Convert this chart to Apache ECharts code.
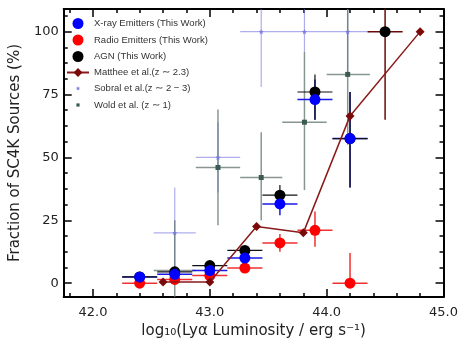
<!DOCTYPE html>
<html>
<head>
<meta charset="utf-8">
<title>SC4K AGN fraction</title>
<script src="https://cdn.jsdelivr.net/npm/echarts@6/dist/echarts.min.js"></script>
<style>
    body { margin:0; background:#fff; }
    #main { width:461px; height:344px; }
</style>
</head>
<body>
<div id="main"></div>
<script type="text/javascript">
// this work: log L, fraction, and error bar ends
var twX     = [42.4, 42.7, 43.0, 43.3, 43.6, 43.9, 44.2, 44.5];
var twXLo   = [42.25, 42.55, 42.85, 43.15, 43.45, 43.75, 44.05, 44.35];
var twXHi   = [42.55, 42.85, 43.15, 43.45, 43.75, 44.05, 44.35, 44.65];

var agnY    = [2.5, 4.5, 7, 13, 35, 76, 57.5, 100];
var agnYLo  = [1.5, 3, 5.5, 11, 31, 65, 38, 65];
var agnYHi  = [3.5, 6, 8.5, 15, 39, 83, 76, 115];

var xrayY   = [2.5, 3.5, 5, 10, 31.5, 73, 57.5];
var xrayYLo = [2, 2.5, 4, 8.5, 27, 65, 38];
var xrayYHi = [3, 4.5, 6, 11.5, 35, 81, 76];

var radioY   = [0, 1.5, 3, 6, 16, 21, 0];
var radioYLo = [0, 0.5, 1.5, 4.5, 12.5, 14.5, 0];
var radioYHi = [0.5, 2.5, 4.5, 7.5, 19.5, 28.5, 12];

// Matthee et al.
var matX = [42.6, 43.0, 43.4, 43.8, 44.2, 44.8];
var matY = [0.5, 0.5, 22.5, 20, 66.5, 100];

// Sobral et al. and Wold et al. share bins
var litX   = [42.7, 43.07, 43.44, 43.81, 44.18];
var litXLo = [42.52, 42.88, 43.26, 43.62, 44.0];
var litXHi = [42.88, 43.26, 43.62, 44.0, 44.37];

var sobY   = [20, 50, 100, 100, 100];
var sobYLo = [2, 36, 78, 92, 84];
var sobYHi = [38, 64, 115, 115, 115];

var woldY   = [5, 46, 42, 64, 83];
var woldYLo = [-6, 23, 25, 37, 55];
var woldYHi = [25, 69, 60, 92, 115];

var xMajor = [42, 43, 44, 45];
var xMinor = [41.8, 42.2, 42.4, 42.6, 42.8, 43.2, 43.4, 43.6, 43.8, 44.2, 44.4, 44.6, 44.8];
var yMajor = [0, 25, 50, 75, 100];
var yMinor = [6.25, 12.5, 18.75, 31.25, 37.5, 43.75, 56.25, 62.5, 68.75, 81.25, 87.5, 93.75, 106.25];

var myChart = echarts.init(document.getElementById('main'));

function pts(xs, ys) {
    var out = [];
    for (var i = 0; i < ys.length; i++) out.push([xs[i], ys[i]]);
    return out;
}
function errs(xs, ys, xl, xh, yl, yh) {
    var out = [];
    for (var i = 0; i < ys.length; i++) out.push([xs[i], ys[i], xl[i], xh[i], yl[i], yh[i]]);
    return out;
}
function errSeries(name, data, color, width, z) {
    return {
        name: name,
        type: 'custom',
        clip: true,
        z: z,
        silent: true,
        data: data,
        renderItem: function (params, api) {
            var x = api.value(0), y = api.value(1);
            var l = api.coord([api.value(2), y]);
            var r = api.coord([api.value(3), y]);
            var b = api.coord([x, api.value(4)]);
            var t = api.coord([x, api.value(5)]);
            var st = { stroke: color, lineWidth: width };
            return {
                type: 'group',
                children: [
                    { type: 'line', shape: { x1: l[0], y1: l[1], x2: r[0], y2: r[1] }, style: st },
                    { type: 'line', shape: { x1: b[0], y1: b[1], x2: t[0], y2: t[1] }, style: st }
                ]
            };
        }
    };
}

var tickAxis = function (pos, vals, len, showLine, showLabel, isX) {
    var ax = {
        type: 'value',
        position: pos,
        min: isX ? 41.75 : -5.5,
        max: isX ? 45.0 : 109,
        axisLine: { show: showLine, onZero: false, lineStyle: { color: '#000', width: 2 } },
        axisTick: { show: true, inside: true, length: len, customValues: vals, lineStyle: { color: '#000', width: 1.5 } },
        axisLabel: { show: false },
        splitLine: { show: false }
    };
    if (showLabel) {
        ax.axisLabel = {
            show: true,
            customValues: vals,
            fontSize: 13,
            color: '#222',
            fontFamily: 'DejaVu Sans',
            margin: isX ? 9 : 5,
            formatter: isX ? function (v) { return v.toFixed(1); } : function (v) { return String(v); }
        };
    }
    return ax;
};

var xAxes = [
    tickAxis('bottom', xMajor, 8, true, true, true),
    tickAxis('bottom', xMinor, 4, false, false, true),
    tickAxis('top', xMajor, 8, true, false, true),
    tickAxis('top', xMinor, 4, false, false, true)
];
xAxes[0].name = 'log\u2081\u2080(Ly\u03b1 Luminosity / erg s\u207b\u00b9)';
xAxes[0].nameLocation = 'middle';
xAxes[0].nameGap = 27;
xAxes[0].nameTextStyle = { fontSize: 15, color: '#222', fontFamily: 'DejaVu Sans' };

var yAxes = [
    tickAxis('left', yMajor, 8, true, true, false),
    tickAxis('left', yMinor, 4, false, false, false),
    tickAxis('right', yMajor, 8, true, false, false),
    tickAxis('right', yMinor, 4, false, false, false)
];
yAxes[0].name = 'Fraction of SC4K Sources (%)';
yAxes[0].nameLocation = 'middle';
yAxes[0].nameGap = 36;
yAxes[0].nameTextStyle = { fontSize: 15, color: '#222', fontFamily: 'DejaVu Sans' };

var sobColor = 'rgba(120,120,225,0.6)';
var woldColor = 'rgba(95,115,110,0.75)';
var starPath = 'M0,-10L2.9,-4L9.5,-3.1L4.7,1.5L5.9,8.1L0,5L-5.9,8.1L-4.7,1.5L-9.5,-3.1L-2.9,-4Z';
// small legend icons: padded with empty moves so they keep a small size
var starIcon = 'path://M-24,-24M24,24M0,-10L2.9,-4L9.5,-3.1L4.7,1.5L5.9,8.1L0,5L-5.9,8.1L-4.7,1.5L-9.5,-3.1L-2.9,-4Z';
var squareIcon = 'path://M-24,-24M24,24M-7,-7L7,-7L7,7L-7,7Z';

var option = {
    animation: false,
    grid: { left: 54, right: 9, top: 9, bottom: 42 },
    xAxis: xAxes,
    yAxis: yAxes,
    legend: {
        orient: 'vertical',
        left: 61,
        top: 13,
        itemGap: 5.5,
        itemWidth: 22,
        itemHeight: 11,
        textStyle: { fontSize: 9.5, color: '#333', fontFamily: 'Liberation Sans' },
        data: [
            'X-ray Emitters (This Work)',
            'Radio Emitters (This Work)',
            'AGN (This Work)',
            'Matthee et al.(z \u223c 2.3)',
            { name: 'Sobral et al.(z \u223c 2 \u2212 3)', icon: starIcon },
            { name: 'Wold et al. (z \u223c 1)', icon: squareIcon }
        ]
    },
    series: [
        errSeries('sobErr', errs(litX, sobY, litXLo, litXHi, sobYLo, sobYHi), sobColor, 1.2, 1),
        errSeries('woldErr', errs(litX, woldY, litXLo, litXHi, woldYLo, woldYHi), woldColor, 1.5, 1),
        {
            name: 'Sobral et al.(z \u223c 2 \u2212 3)', type: 'scatter', z: 2,
            symbol: 'path://' + starPath,
            symbolSize: 5, itemStyle: { color: '#7b7be0', opacity: 0.9 },
            data: pts(litX, sobY)
        },
        {
            name: 'Wold et al. (z \u223c 1)', type: 'scatter', z: 2,
            symbol: 'rect', symbolSize: 5, itemStyle: { color: '#3b5b52', opacity: 1 },
            data: pts(litX, woldY)
        },
        errSeries('radioErr', errs(twX, radioY, twXLo, twXHi, radioYLo, radioYHi), '#f23030', 1.5, 3),
        errSeries('xrayErr', errs(twX, xrayY, twXLo, twXHi, xrayYLo, xrayYHi), '#1a1ae6', 1.5, 3),
        errSeries('agnErr', errs(twX, agnY, twXLo, twXHi, agnYLo, agnYHi).slice(0, 7), '#111', 1.2, 3),
        errSeries('agnErrTop', errs(twX, agnY, twXLo, twXHi, agnYLo, agnYHi).slice(7), '#6a0a0a', 1.5, 3),
        {
            name: 'Radio Emitters (This Work)', type: 'scatter', z: 4,
            symbol: 'circle', symbolSize: 11, itemStyle: { color: '#ff0000', opacity: 1 },
            data: pts(twX, radioY)
        },
        {
            name: 'X-ray Emitters (This Work)', type: 'scatter', z: 5,
            symbol: 'circle', symbolSize: 11, itemStyle: { color: '#0000ff', opacity: 1 },
            data: pts(twX, xrayY)
        },
        {
            name: 'AGN (This Work)', type: 'scatter', z: 4,
            symbol: 'circle', symbolSize: 11, itemStyle: { color: '#000', opacity: 1 },
            data: pts(twX, agnY)
        },
        {
            name: 'Matthee et al.(z \u223c 2.3)', type: 'line', z: 6,
            symbol: 'diamond', symbolSize: 9, showAllSymbol: true,
            itemStyle: { color: '#7a0a0a' },
            lineStyle: { color: '#8b1a1a', width: 1.5 },
            data: pts(matX, matY)
        }
    ]
};

myChart.setOption(option);
</script>
</body>
</html>
